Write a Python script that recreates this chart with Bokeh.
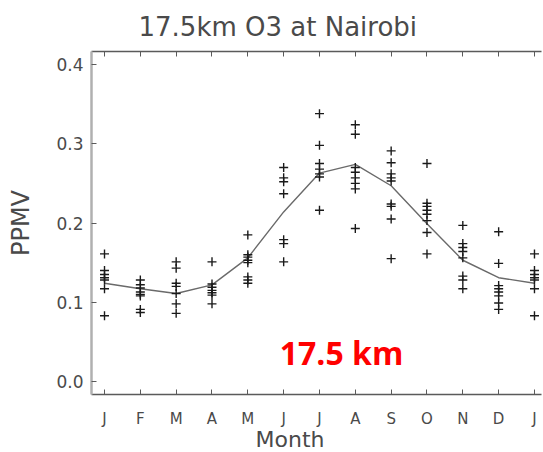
from bokeh.plotting import figure
from bokeh.models import FixedTicker, LinearAxis, Range1d, Label, Title, ColumnDataSource
from bokeh.embed import file_html
from bokeh.resources import INLINE

# ---- data ----
month_labels = ["J", "F", "M", "A", "M", "J", "J", "A", "S", "O", "N", "D", "J"]
month_index = list(range(13))

jan = [0.161, 0.140, 0.135, 0.131, 0.128, 0.117, 0.083]
feb = [0.128, 0.122, 0.118, 0.113, 0.110, 0.108, 0.091, 0.087]
mar = [0.151, 0.143, 0.124, 0.120, 0.111, 0.098, 0.086]
apr = [0.151, 0.123, 0.119, 0.115, 0.112, 0.109, 0.098]
may = [0.185, 0.160, 0.157, 0.153, 0.150, 0.132, 0.128, 0.124]
jun = [0.270, 0.257, 0.252, 0.237, 0.179, 0.174, 0.151]
jul = [0.338, 0.298, 0.275, 0.268, 0.262, 0.258, 0.216]
aug = [0.324, 0.312, 0.270, 0.264, 0.257, 0.250, 0.243, 0.193]
sep = [0.291, 0.276, 0.262, 0.257, 0.253, 0.224, 0.221, 0.205, 0.155]
oct_ = [0.275, 0.225, 0.221, 0.216, 0.211, 0.203, 0.188, 0.161]
nov = [0.197, 0.174, 0.169, 0.164, 0.156, 0.133, 0.128, 0.117]
dec = [0.189, 0.149, 0.121, 0.117, 0.113, 0.108, 0.099, 0.091]

monthly_obs = [jan, feb, mar, apr, may, jun, jul, aug, sep, oct_, nov, dec, jan]

mean_o3 = [0.124, 0.117, 0.111, 0.122, 0.156, 0.214, 0.263, 0.274,
           0.247, 0.199, 0.153, 0.131, 0.124]

y_ticks = [0.0, 0.1, 0.2, 0.3, 0.4]

# ---- build sources ----
xs, ys = [], []
for i, vals in zip(month_index, monthly_obs):
    xs += [i] * len(vals)
    ys += vals
pts = ColumnDataSource(dict(x=xs, y=ys))
line_src = ColumnDataSource(dict(x=month_index, y=mean_o3))

X0, X1 = -0.363, 12.196
Y0, Y1 = -0.0164, 0.4164

font = "DejaVu Sans"
txt_col = "#4a4a4a"

p = figure(width=543, height=452, output_backend="svg", toolbar_location=None,
           x_range=Range1d(X0, X1), y_range=Range1d(Y0, Y1),
           min_border_left=91, min_border_right=2, min_border_top=51,
           min_border_bottom=58, background_fill_color="white",
           border_fill_color="white", outline_line_color=None)

p.grid.visible = False

p.title.text = "17.5km O3 at Nairobi"
p.title.align = "left"
p.title.offset = 47
p.title.text_font = font
p.title.text_font_size = "26px"
p.title.text_font_style = "normal"
p.title.text_color = txt_col
p.title.standoff = 19

p.line("x", "y", source=line_src, line_color="#6a6a6a", line_width=1.4)
p.scatter("x", "y", source=pts, marker="cross", size=9, line_width=1.4,
          line_color="#1a1a1a")

# bottom axis
xa = p.xaxis[0]
xa.ticker = FixedTicker(ticks=month_index)
xa.major_label_overrides = {i: lab for i, lab in zip(month_index, month_labels)}
xa.major_tick_in = 5
xa.major_tick_out = 0
xa.minor_tick_line_color = None
xa.axis_line_color = "#5a5a5a"
xa.axis_line_width = 1.6
xa.major_tick_line_color = "#5a5a5a"
xa.major_label_standoff = 15
xa.major_label_text_font = font
xa.major_label_text_font_size = "15px"
xa.major_label_text_color = txt_col

# x-axis caption as a title below the axis (lets it sit left of centre)
month_title = Title(text="Month", align="left", offset=164, standoff=-12,
                    text_font=font, text_font_size="22px", text_font_style="normal",
                    text_color=txt_col)
p.add_layout(month_title, "below")

# left axis
ya = p.yaxis[0]
ya.ticker = FixedTicker(ticks=y_ticks)
ya.major_label_overrides = {t: f"{t:.1f}" for t in y_ticks}
ya.major_tick_in = 5
ya.major_tick_out = 0
ya.minor_tick_line_color = None
ya.axis_line_color = "#b0b0b0"
ya.axis_line_width = 2.5
ya.major_tick_line_color = "#5a5a5a"
ya.major_label_standoff = 8
ya.major_label_text_font = font
ya.major_label_text_font_size = "17px"
ya.major_label_text_color = txt_col
ya.axis_label = "PPMV"
ya.axis_label_standoff = 18
ya.axis_label_text_font = font
ya.axis_label_text_font_size = "24px"
ya.axis_label_text_font_style = "normal"
ya.axis_label_text_color = txt_col

# top axis (ticks only)
top = LinearAxis(ticker=FixedTicker(ticks=month_index),
                 major_label_overrides={i: "" for i in month_index},
                 major_label_standoff=0,
                 major_tick_in=5, major_tick_out=0, minor_tick_line_color=None,
                 axis_line_color="#5a5a5a", axis_line_width=1.4,
                 major_tick_line_color="#5a5a5a")
p.add_layout(top, "above")

# pixel -> data helpers for text placement inside the frame
FL, FR = 91.0, 541.0
FT, FB = 51.0, 394.0
def dx(px):
    return X0 + (px - FL) / (FR - FL) * (X1 - X0)
def dy(py):
    return Y1 - (py - FT) / (FB - FT) * (Y1 - Y0)

p.add_layout(Label(x=dx(341), y=dy(352), text="17.5 km",
                   text_font="Open Sans", text_font_size="32px",
                   text_font_style="bold", text_color="#ff0000",
                   text_align="center", text_baseline="alphabetic"))

open("out.html", "w").write(file_html(p, INLINE))
